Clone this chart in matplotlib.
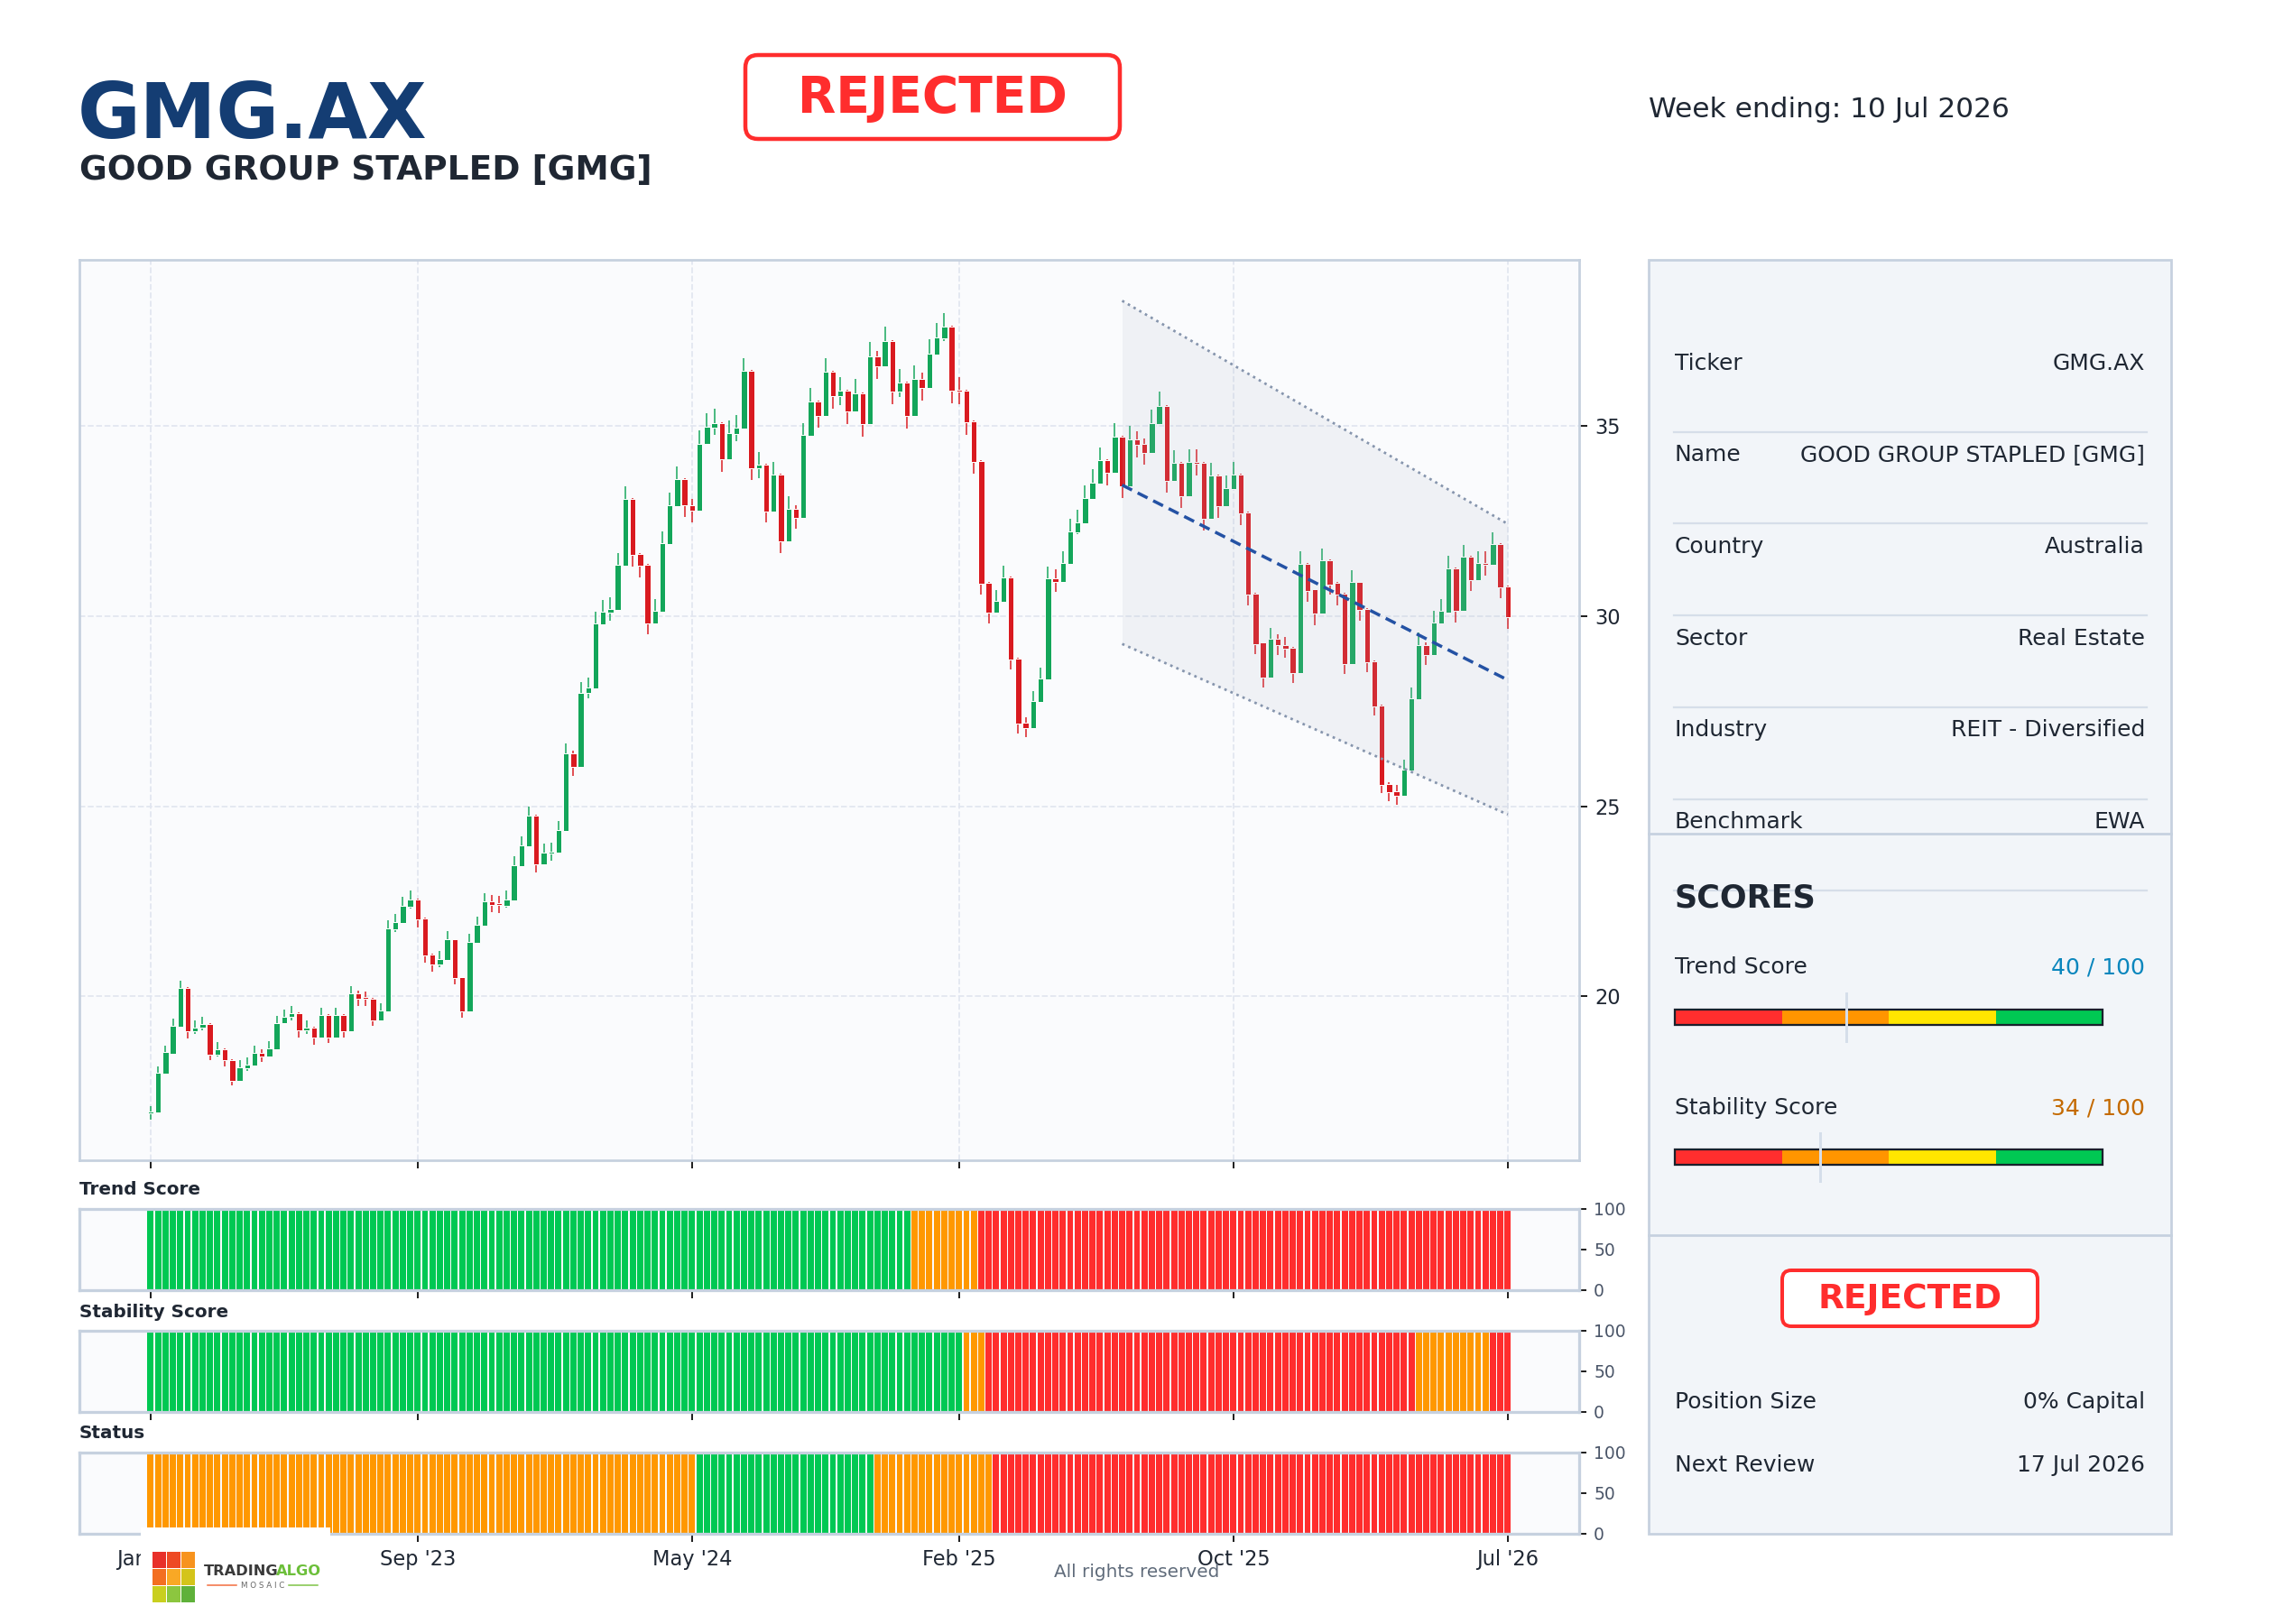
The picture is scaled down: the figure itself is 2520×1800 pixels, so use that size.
import numpy as np
import pandas as pd
import matplotlib
matplotlib.use("Agg")
import matplotlib.pyplot as plt
from matplotlib.patches import Rectangle, FancyBboxPatch

# weekly candles (Jan 2023 -> Jul 2026)
opens = [16.92, 16.94, 17.97, 18.49, 19.20, 20.22, 19.07, 19.16, 19.27, 18.46,
         18.61, 18.32, 17.78, 18.11, 18.18, 18.51, 18.42, 18.61, 19.30, 19.45,
         19.56, 19.09, 19.18, 18.90, 19.51, 18.92, 19.51, 19.07, 20.08, 19.94,
         19.94, 19.37, 19.60, 21.75, 21.93, 22.35, 22.54, 22.04, 21.09, 20.83,
         20.95, 21.49, 20.49, 19.60, 21.40, 21.86, 22.49, 22.42, 22.38, 22.52,
         23.42, 23.94, 24.75, 23.46, 23.76, 23.77, 24.35, 26.38, 26.04, 27.97,
         28.10, 29.79, 30.09, 30.16, 31.33, 33.08, 31.63, 31.35, 29.82, 30.12,
         31.90, 32.90, 33.60, 32.93, 32.78, 34.53, 34.96, 35.08, 34.14, 34.80,
         34.93, 36.46, 33.90, 33.99, 32.75, 33.72, 31.97, 32.82, 32.59, 34.75,
         35.65, 35.26, 36.43, 35.80, 35.93, 35.39, 35.86, 35.06, 36.84, 36.58,
         37.24, 35.91, 36.15, 35.27, 36.24, 36.01, 36.89, 37.31, 37.62, 35.96,
         35.93, 35.13, 34.08, 30.87, 30.09, 30.38, 31.02, 28.88, 27.19, 27.05,
         27.74, 28.33, 30.99, 30.91, 31.38, 32.21, 32.44, 33.08, 33.49, 34.10,
         33.77, 34.72, 33.41, 34.65, 34.53, 34.29, 35.05, 35.54, 33.56, 34.03,
         33.15, 34.05, 34.03, 32.56, 33.70, 32.89, 33.34, 33.72, 32.73, 30.60,
         29.30, 28.38, 29.41, 29.25, 29.17, 28.51, 31.37, 30.70, 30.06, 31.48,
         30.87, 30.60, 28.75, 30.89, 30.20, 28.82, 27.65, 25.58, 25.39, 25.27,
         25.94, 27.82, 29.25, 28.98, 29.82, 30.10, 31.25, 30.13, 31.56, 30.96,
         31.39, 31.35, 31.89, 30.79]
highs = [17.10, 18.16, 18.70, 19.41, 20.41, 20.24, 19.37, 19.46, 19.29, 18.80,
         18.63, 18.34, 18.32, 18.38, 18.70, 18.61, 18.82, 19.49, 19.65, 19.75,
         19.58, 19.37, 19.20, 19.70, 19.53, 19.70, 19.53, 20.27, 20.15, 20.13,
         19.96, 19.82, 21.99, 22.16, 22.61, 22.78, 22.56, 22.06, 21.11, 21.18,
         21.71, 21.51, 20.51, 21.63, 22.09, 22.70, 22.66, 22.63, 22.78, 23.68,
         24.20, 24.98, 24.77, 24.01, 24.03, 24.60, 26.64, 26.45, 28.26, 28.38,
         30.11, 30.42, 30.49, 31.66, 33.41, 33.10, 31.66, 31.37, 30.45, 32.22,
         33.24, 33.94, 33.62, 33.09, 34.89, 35.34, 35.45, 35.10, 35.15, 35.30,
         36.80, 36.48, 34.31, 34.01, 34.05, 33.74, 33.15, 32.93, 35.09, 36.00,
         35.67, 36.79, 36.45, 36.29, 35.95, 36.24, 35.88, 37.22, 36.98, 37.62,
         37.26, 36.50, 36.17, 36.60, 36.41, 37.29, 37.72, 37.98, 37.64, 36.29,
         35.95, 35.15, 34.10, 30.89, 30.68, 31.33, 31.04, 28.90, 27.34, 28.02,
         28.64, 31.30, 31.24, 31.71, 32.56, 32.80, 33.44, 33.86, 34.43, 34.12,
         35.07, 34.74, 35.00, 34.86, 34.67, 35.43, 35.90, 35.56, 34.36, 34.05,
         34.38, 34.38, 34.05, 34.03, 33.72, 33.70, 34.05, 33.74, 32.75, 30.62,
         29.32, 29.70, 29.53, 29.46, 29.19, 31.70, 31.39, 30.72, 31.79, 31.50,
         30.91, 30.62, 31.20, 30.91, 30.22, 28.84, 27.67, 25.63, 25.56, 26.22,
         28.13, 29.56, 29.32, 30.13, 30.44, 31.58, 31.27, 31.87, 31.58, 31.70,
         31.70, 32.20, 31.91, 30.81]
lows = [16.76, 16.92, 17.95, 18.47, 19.18, 18.89, 19.00, 19.10, 18.31, 18.42,
        18.14, 17.64, 17.76, 18.02, 18.16, 18.26, 18.40, 18.59, 19.28, 19.37,
        18.92, 19.00, 18.73, 18.88, 18.76, 18.90, 18.90, 19.05, 19.75, 19.73,
        19.21, 19.35, 19.58, 21.70, 21.91, 22.30, 21.81, 20.88, 20.65, 20.77,
        20.93, 20.30, 19.43, 19.58, 21.38, 21.84, 22.21, 22.18, 22.33, 22.50,
        23.40, 23.92, 23.26, 23.44, 23.56, 23.75, 24.33, 25.79, 26.02, 27.84,
        28.08, 29.77, 29.88, 30.14, 31.31, 31.31, 31.03, 29.53, 29.80, 30.10,
        31.88, 32.88, 32.62, 32.46, 32.76, 34.51, 34.76, 33.80, 34.12, 34.61,
        34.91, 33.59, 33.64, 32.46, 32.73, 31.67, 31.95, 32.30, 32.57, 34.73,
        34.95, 35.24, 35.46, 35.55, 35.06, 35.37, 34.72, 35.04, 36.24, 36.56,
        35.58, 35.77, 34.94, 35.25, 35.67, 35.99, 36.87, 37.24, 35.60, 35.58,
        34.77, 33.75, 30.57, 29.81, 30.07, 30.36, 28.59, 26.91, 26.81, 27.03,
        27.72, 28.31, 30.63, 30.89, 31.36, 32.16, 32.42, 33.06, 33.47, 33.44,
        33.75, 33.11, 33.39, 34.17, 33.98, 34.27, 35.03, 33.25, 33.54, 32.85,
        33.13, 33.70, 32.26, 32.54, 32.59, 32.87, 33.32, 32.40, 30.29, 29.01,
        28.12, 28.36, 28.97, 28.90, 28.25, 28.49, 30.39, 29.77, 30.04, 30.56,
        30.29, 28.48, 28.73, 29.89, 28.53, 27.39, 25.34, 25.13, 25.03, 25.25,
        25.92, 27.80, 28.72, 28.96, 29.80, 30.08, 29.84, 30.11, 30.67, 30.94,
        31.06, 31.33, 30.48, 29.67]
closes = [16.96, 17.99, 18.52, 19.23, 20.22, 19.07, 19.18, 19.27, 18.46, 18.61,
          18.31, 17.78, 18.13, 18.20, 18.51, 18.42, 18.63, 19.30, 19.46, 19.56,
          19.09, 19.18, 18.90, 19.51, 18.92, 19.51, 19.07, 20.08, 19.92, 19.92,
          19.37, 19.63, 21.78, 21.94, 22.37, 22.54, 22.02, 21.07, 20.83, 20.97,
          21.49, 20.47, 19.60, 21.42, 21.87, 22.49, 22.40, 22.39, 22.54, 23.44,
          23.96, 24.75, 23.46, 23.77, 23.80, 24.37, 26.38, 26.04, 27.97, 28.12,
          29.81, 30.11, 30.18, 31.35, 33.08, 31.61, 31.33, 29.82, 30.14, 31.92,
          32.92, 33.60, 32.92, 32.78, 34.53, 34.98, 35.08, 34.14, 34.81, 34.95,
          36.46, 33.90, 33.99, 32.75, 33.72, 31.97, 32.82, 32.59, 34.77, 35.65,
          35.26, 36.43, 35.80, 35.93, 35.39, 35.86, 35.06, 36.84, 36.58, 37.24,
          35.91, 36.15, 35.27, 36.24, 36.01, 36.91, 37.34, 37.62, 35.93, 35.92,
          35.10, 34.06, 30.85, 30.09, 30.40, 31.02, 28.86, 27.17, 27.05, 27.76,
          28.36, 30.99, 30.90, 31.40, 32.23, 32.47, 33.11, 33.51, 34.10, 33.77,
          34.72, 33.41, 34.65, 34.50, 34.29, 35.07, 35.54, 33.56, 34.03, 33.15,
          34.05, 34.00, 32.56, 33.70, 32.89, 33.37, 33.72, 32.71, 30.58, 29.27,
          28.38, 29.41, 29.23, 29.15, 28.51, 31.37, 30.67, 30.06, 31.48, 30.84,
          30.58, 28.75, 30.89, 30.17, 28.79, 27.63, 25.56, 25.37, 25.27, 25.96,
          27.84, 29.25, 28.98, 29.84, 30.13, 31.25, 30.13, 31.56, 30.96, 31.39,
          31.35, 31.89, 30.77, 29.98]

first_week = "2023-01-06"

# regression channel over the last part
chan_x = [131, 183]
chan_mid = [33.45, 28.32]
chan_upper_f = 1.145
chan_lower_f = 0.875

# score strips, as runs of (state, weeks)
trend_runs = [("green", 103), ("orange", 9), ("red", 72)]
stability_runs = [("green", 110), ("orange", 3), ("red", 58), ("orange", 10), ("red", 3)]
status_runs = [("orange", 74), ("green", 24), ("orange", 16), ("red", 70)]

info_labels = ["Ticker", "Name", "Country", "Sector", "Industry", "Benchmark"]
info_values = ["GMG.AX", "GOOD GROUP STAPLED [GMG]", "Australia", "Real Estate",
               "REIT - Diversified", "EWA"]
trend_score = 40
stability_score = 34

GREEN = "#13a65a"
RED = "#d91a20"
STRIP = {"green": "#00c853", "orange": "#ff9800", "red": "#ff2d2d"}
SPINE = "#c6d1df"
TEXT = "#1f2733"
AX_BG = "#fafbfd"

opens = np.array(opens)
highs = np.array(highs)
lows = np.array(lows)
closes = np.array(closes)
n = len(closes)
idx = np.arange(n)
dates = pd.date_range(first_week, periods=n, freq="7D")
tick_idx = np.linspace(0, n - 1, 6).astype(int)
tick_labels = [dates[i].strftime("%b '%y") for i in tick_idx]

fig = plt.figure(figsize=(14, 10), dpi=180)
fig.patch.set_facecolor("white")

ax = fig.add_axes([0.0349, 0.2856, 0.6595, 0.5544])
ax_tr = fig.add_axes([0.0349, 0.2056, 0.6595, 0.05], sharex=ax)
ax_st = fig.add_axes([0.0349, 0.1306, 0.6595, 0.05], sharex=ax)
ax_ss = fig.add_axes([0.0349, 0.0556, 0.6595, 0.05], sharex=ax)

# candles
up = closes >= opens
cols = np.where(up, GREEN, RED)
body = np.maximum(np.abs(closes - opens), 0.05)
ax.vlines(idx, lows, highs, colors=cols, lw=0.8, alpha=0.75, zorder=2)
ax.bar(idx, body, bottom=np.minimum(opens, closes), width=0.78, color=cols,
       edgecolor="white", linewidth=0.4, zorder=3)

# channel
up_band = [m * chan_upper_f for m in chan_mid]
lo_band = [m * chan_lower_f for m in chan_mid]
ax.fill_between(chan_x, lo_band, up_band, color="#a7b3c4", alpha=0.13,
                lw=0, zorder=4)
ax.plot(chan_x, up_band, ls=":", color="#8695ad", lw=1.1, zorder=5)
ax.plot(chan_x, lo_band, ls=":", color="#8695ad", lw=1.1, zorder=5)
ax.plot(chan_x, chan_mid, ls=(0, (3.5, 2)), color="#2452a4", lw=1.4, zorder=6)

ax.set_facecolor(AX_BG)
ax.margins(x=0.05, y=0.05)
ax.yaxis.tick_right()
ax.set_yticks([20, 25, 30, 35])
ax.grid(True, ls="--", color="#e1e6f0", lw=0.7)
ax.set_axisbelow(True)
ax.tick_params(axis="y", labelsize=9, labelcolor=TEXT, color="#222")
ax.tick_params(axis="x", labelbottom=False, color="#222")
for s in ax.spines.values():
    s.set_color(SPINE)
    s.set_linewidth(1.1)


def strip(a, runs, last=False):
    c = []
    for state, k in runs:
        c += [STRIP[state]] * k
    a.bar(idx, 100, width=0.84, color=c, lw=0, zorder=2)
    a.set_ylim(0, 100)
    a.set_facecolor(AX_BG)
    a.yaxis.tick_right()
    a.set_yticks([0, 50, 100])
    a.tick_params(axis="y", labelsize=7.5, labelcolor="#4a5568", color="#222",
                  length=3)
    a.tick_params(axis="x", labelbottom=last, labelsize=9, labelcolor=TEXT,
                  color="#222")
    for s in a.spines.values():
        s.set_color(SPINE)
        s.set_linewidth(1.3)


strip(ax_tr, trend_runs)
strip(ax_st, stability_runs)
strip(ax_ss, status_runs, last=True)
ax_ss.set_xticks(tick_idx)
ax_ss.set_xticklabels(tick_labels)

# overlay in pixel coordinates for header, side panel and footer
ov = fig.add_axes([0, 0, 1, 1])
ov.set_xlim(0, 2520)
ov.set_ylim(1800, 0)
ov.axis("off")
ov.patch.set_alpha(0)

ov.text(86, 153, "GMG.AX", fontsize=34, fontweight="bold", color="#143d73",
        va="baseline")
ov.text(88, 199, "GOOD GROUP STAPLED [GMG]", fontsize=15, fontweight="bold",
        color=TEXT, va="baseline")
ov.add_patch(FancyBboxPatch((826, 61), 415, 93,
                            boxstyle="round,pad=0,rounding_size=14",
                            fc="white", ec="#ff2d2d", lw=1.8))
ov.text(1033.5, 109, "REJECTED", fontsize=22, fontweight="bold",
        color="#ff2d2d", ha="center", va="center")
ov.text(1827, 121, "Week ending: 10 Jul 2026", fontsize=12.5, color=TEXT,
        va="center")

for y, t in [(1319, "Trend Score"), (1454, "Stability Score"), (1589, "Status")]:
    ov.text(88, y, t, fontsize=8, fontweight="bold", color=TEXT, va="center")

# side panel
ov.add_patch(Rectangle((1827, 288), 579, 1412, fc="#f2f5f9", ec=SPINE, lw=1.1))
ov.plot([1827, 2406], [924, 924], color=SPINE, lw=1.1)
ov.plot([1827, 2406], [1369, 1369], color=SPINE, lw=1.1)
for k in range(6):
    y = 478.7 + 101.7 * k
    ov.plot([1855, 2379], [y, y], color="#d6dee9", lw=0.9)
for k, (lab, val) in enumerate(zip(info_labels, info_values)):
    y = 409.5 + 101.7 * k
    ov.text(1856, y, lab, fontsize=10, color=TEXT, va="baseline")
    ov.text(2377, y, val, fontsize=10, color=TEXT, va="baseline", ha="right")

ov.text(1855, 1006, "SCORES", fontsize=14, fontweight="bold", color=TEXT,
        va="baseline")

gauge_cols = ["#ff2e2e", "#ff9500", "#ffe600", "#00c853"]
for lab, score, vcol, ly, gy in [("Trend Score", trend_score, "#0a86bd", 1079, 1119),
                                 ("Stability Score", stability_score, "#c46a00", 1235, 1274)]:
    ov.text(1856, ly, lab, fontsize=10, color=TEXT, va="baseline")
    ov.text(2377, ly, f"{score} / 100", fontsize=10, color=vcol, va="baseline",
            ha="right")
    seg = 474 / 4
    for j, gc in enumerate(gauge_cols):
        ov.add_patch(Rectangle((1856 + j * seg, gy), seg, 17, fc=gc, lw=0))
    ov.add_patch(Rectangle((1856, gy), 474, 17, fc="none", ec="#1a202c", lw=0.9))
    mx = 1856 + 474 * score / 100
    ov.plot([mx, mx], [gy - 18, gy + 35], color="#d5deea", lw=1.2)

ov.add_patch(FancyBboxPatch((1975, 1408), 283, 62,
                            boxstyle="round,pad=0,rounding_size=10",
                            fc="white", ec="#ff2d2d", lw=1.6))
ov.text(2116.5, 1440, "REJECTED", fontsize=15, fontweight="bold",
        color="#ff2d2d", ha="center", va="center")
ov.text(1856, 1561, "Position Size", fontsize=10, color=TEXT, va="baseline")
ov.text(2377, 1561, "0% Capital", fontsize=10, color=TEXT, va="baseline",
        ha="right")
ov.text(1856, 1631, "Next Review", fontsize=10, color=TEXT, va="baseline")
ov.text(2377, 1631, "17 Jul 2026", fontsize=10, color=TEXT, va="baseline",
        ha="right")

# footer
ov.text(1260, 1743, "All rights reserved", fontsize=8, color="#5f6b7a",
        ha="center", va="center")

# logo
ov.add_patch(Rectangle((156, 1693), 210, 107, fc="white", lw=0, zorder=5))
logo_cols = [["#e8302a", "#ee4a24", "#f7931e"],
             ["#f36f21", "#f9a825", "#d4c41a"],
             ["#c9cf1f", "#8cc63f", "#5fb13a"]]
for r in range(3):
    for c in range(3):
        ov.add_patch(Rectangle((169 + c * 16, 1720 + r * 19), 14.5, 17.5,
                               fc=logo_cols[r][c], lw=0, zorder=6))
ov.text(226, 1742, "TRADING", fontsize=6.5, fontweight="bold", color="#3a3a3a",
        va="center", zorder=6)
ov.text(306, 1742, "ALGO", fontsize=6.5, fontweight="bold", color="#6cbf3a",
        va="center", zorder=6)
ov.text(291, 1757, "M O S A I C", fontsize=3.5, color="#666", ha="center",
        va="center", zorder=6)
ov.plot([230, 262], [1757, 1757], color="#f26b3a", lw=0.6, zorder=6)
ov.plot([320, 352], [1757, 1757], color="#7cc242", lw=0.6, zorder=6)

fig.savefig("out.png", dpi=180, facecolor="white")
